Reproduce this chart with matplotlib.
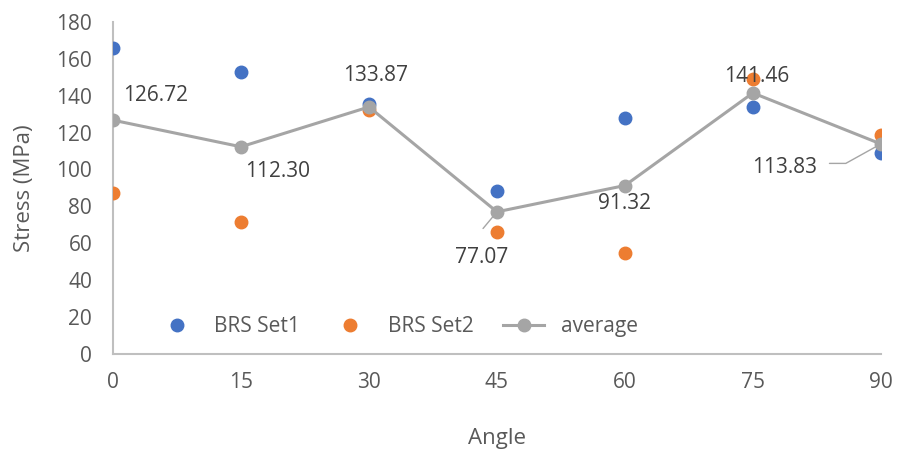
import matplotlib
matplotlib.use("Agg")
import matplotlib.pyplot as plt

plt.rcParams['font.family'] = ['Open Sans', 'DejaVu Sans']

angles = [0, 15, 30, 45, 60, 75, 90]
brs_set1 = [166.0, 153.0, 135.7, 88.2, 128.1, 133.9, 108.9]
brs_set2 = [87.4, 71.6, 132.0, 65.9, 54.5, 149.0, 118.7]
average = [126.72, 112.30, 133.87, 77.07, 91.32, 141.46, 113.83]
x_ticks = [0, 15, 30, 45, 60, 75, 90]
y_ticks = [0, 20, 40, 60, 80, 100, 120, 140, 160, 180]

BLUE = '#4472C4'
ORANGE = '#ED7D31'
GRAY = '#A5A5A5'
TEXT = '#404040'
TICK = '#595959'

fig = plt.figure(figsize=(8.97, 4.54), dpi=100)
ax = fig.add_axes([0.126, 0.220, 0.856, 0.732])

ax.plot(angles, brs_set1, 'o', color=BLUE, markersize=9, label='BRS Set1', zorder=3)
ax.plot(angles, brs_set2, 'o', color=ORANGE, markersize=9, label='BRS Set2', zorder=3)
ax.plot(angles, average, '-o', color=GRAY, linewidth=2.2, markersize=9,
        label='average', zorder=4)

ax.set_xlim(0, 90)
ax.set_ylim(0, 180)
ax.set_xticks(x_ticks)
ax.set_yticks(y_ticks)
ax.tick_params(length=0, labelsize=15, colors=TICK)
ax.tick_params(axis='y', pad=15)
ax.tick_params(axis='x', pad=13)
for s in ['top', 'right']:
    ax.spines[s].set_visible(False)
for s in ['left', 'bottom']:
    ax.spines[s].set_color('#BFBFBF')
    ax.spines[s].set_linewidth(1.5)

ax.set_xlabel('Angle', fontsize=16, color=TICK, labelpad=25)
ax.set_ylabel('Stress (MPa)', fontsize=16, color=TICK, labelpad=15)

# value labels for the average series (offsets in points)
offsets = {
    0: (7, 18, 'left'),
    15: (3, -18, 'left'),
    30: (5, 23, 'center'),
    45: (-11, -33, 'center'),
    60: (0, -13, 'center'),
    75: (3, 12, 'center'),
    90: (-69, -17, 'center'),
}
for a, v in zip(angles, average):
    dx, dy, ha = offsets[a]
    ax.annotate(f'{v:.2f}', (a, v), xytext=(dx, dy), textcoords='offset points',
                ha=ha, va='center', fontsize=15, color=TEXT, zorder=5)

# leader lines
ax.annotate('', (angles[3], average[3]), xytext=(-10, -12), textcoords='offset points',
            arrowprops=dict(arrowstyle='-', color=GRAY, lw=1.0,
                            shrinkA=0, shrinkB=0), zorder=2)
ax.annotate('', (angles[6], average[6]), xytext=(-37, -14), textcoords='offset points',
            arrowprops=dict(arrowstyle='-', color=GRAY, lw=1.0, shrinkA=0, shrinkB=0,
                            connectionstyle='angle,angleA=0,angleB=29,rad=0'),
            zorder=2)

leg = ax.legend(loc='lower center', bbox_to_anchor=(0.37, -0.005), ncol=3,
                frameon=False, fontsize=15, handlelength=2.0, columnspacing=1.4,
                handletextpad=0.8, labelcolor=TICK)

fig.savefig('out.png', dpi=100, facecolor='white')
